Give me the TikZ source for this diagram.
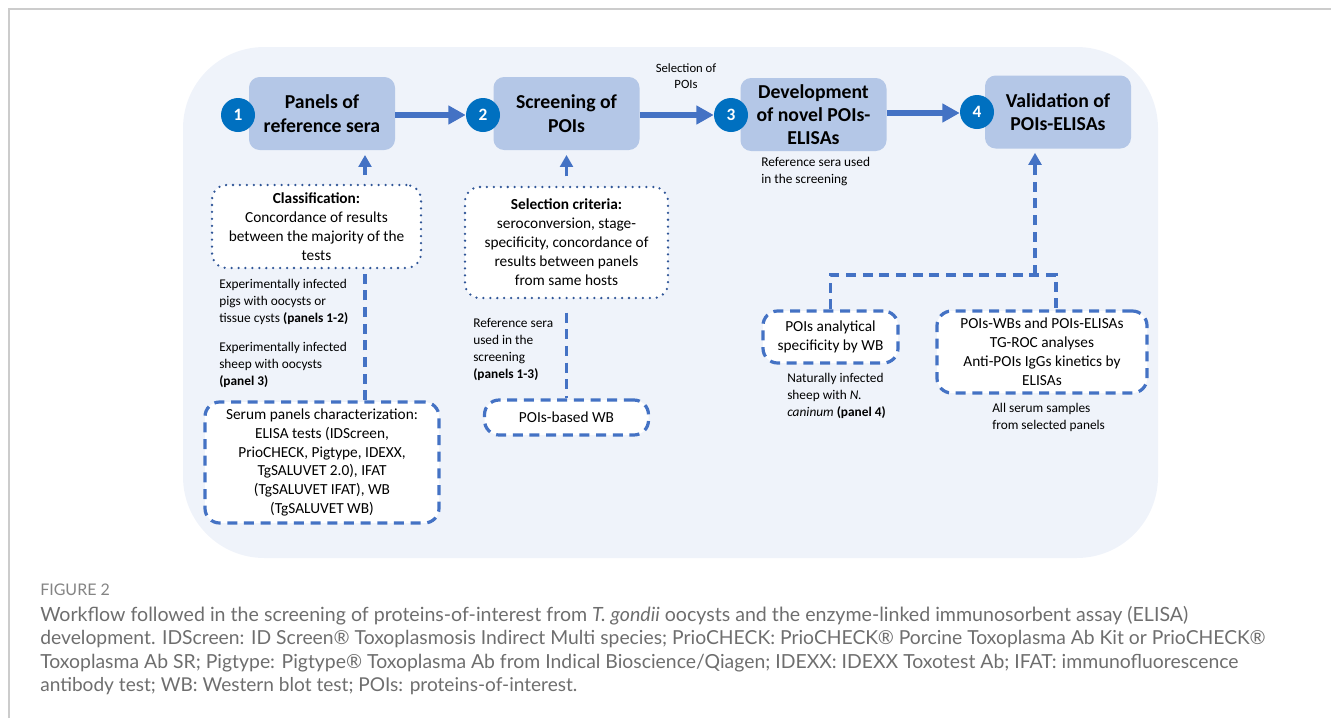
\documentclass[tikz,border=0pt]{standalone}
\usepackage{fontspec}
\setmainfont{Carlito}
\newfontfamily\leyenda{Lato}
\usetikzlibrary{arrows.meta}
\definecolor{fondo}{HTML}{EFF3FA}
\definecolor{cajaazul}{HTML}{B4C7E7}
\definecolor{circulo}{HTML}{0070C0}
\definecolor{flecha}{HTML}{4472C4}
\definecolor{punteado}{HTML}{2F5597}
\definecolor{marco}{HTML}{CCCCCC}
\definecolor{gris}{HTML}{6E6E6E}
\begin{document}
\begin{tikzpicture}[x=0.75pt,y=-0.75pt,
    paso/.style={fill=cajaazul,rounded corners=8pt,minimum width=109.5pt,minimum height=54.75pt,align=center,inner sep=2pt,font=\fontsize{14.8}{17.5}\selectfont\bfseries},
    numero/.style={circle,fill=circulo,text=white,minimum size=25.5pt,inner sep=0pt,font=\fontsize{13}{13}\selectfont\bfseries},
    punteada/.style={draw=punteado,line width=1.9pt,dash pattern=on 0pt off 5.2pt,line cap=round,fill=white,rounded corners=11pt,align=center,inner sep=2pt,font=\fontsize{11.5}{14.2}\selectfont},
    rayada/.style={draw=flecha,line width=2.4pt,dash pattern=on 7.5pt off 5pt,fill=white,rounded corners=11pt,align=center,inner sep=2pt,font=\fontsize{11.5}{14.2}\selectfont},
    nota/.style={align=left,inner sep=0pt,anchor=north west,font=\fontsize{10}{12.7}\selectfont},
    pie/.style={anchor=base west,inner sep=0pt,text=gris,font=\leyenda\fontsize{14.3}{17.6}\selectfont},
    flechagorda/.style={draw=flecha,line width=3.8pt,-{Triangle[length=13pt,width=13.5pt]}},
    flechita/.style={draw=flecha,line width=2.4pt,-{Triangle[length=9pt,width=9.5pt]}},
    linea/.style={draw=flecha,line width=2.4pt,dash pattern=on 7.5pt off 5pt}]
\useasboundingbox (0,0) rectangle (1331,718);
\draw[marco,line width=1.1pt] (9,718) -- (9,9) -- (1331,9); % marco
\fill[fondo,rounded corners=61pt] (183,47) rectangle (1158,558); % fondo
% pasos
\node[paso] (paneles) at (322,113.5) {Panels of\\reference sera};
\node[paso] (cribado) at (566.5,113.5) {Screening of\\POIs};
\node[paso] (desarrollo) at (813.5,114.5) {Development\\of novel POIs-\\ELISAs};
\node[paso] (valida) at (1058,112) {Validation of\\POIs-ELISAs};
\node[numero] (n1) at (238,115) {1};
\node[numero] (n2) at (483,115) {2};
\node[numero] (n3) at (731,115) {3};
\node[numero] (n4) at (977,112) {4};
\draw[flechagorda] (paneles.east |- n2) -- (n2.west);
\draw[flechagorda] (cribado.east |- n3) -- (n3.west);
\draw[flechagorda] (desarrollo.east |- 0,113) -- (n4.west |- 0,113);
\node[nota,anchor=north,align=center,font=\fontsize{9.5}{12.5}\selectfont] (seleccion) at (686,63) {Selection of\\POIs};
\node[nota] (usados) at (761,157) {Reference sera used\\in the screening};
% columna 1
\node[rayada,minimum width=175.5pt,minimum height=90.75pt] (suero) at (322,462.5) {Serum panels characterization:\\ELISA tests (IDScreen,\\PrioCHECK, Pigtype, IDEXX,\\TgSALUVET 2.0), IFAT\\(TgSALUVET IFAT), WB\\(TgSALUVET WB)};
\coordinate (eje1) at (365,0);
\draw[linea] (suero.north -| eje1) -- (300,268 -| eje1);
\node[punteada,minimum width=156.75pt,minimum height=62.25pt] (clasif) at (316.5,226.5) {\textbf{Classification:}\\Concordance of results\\between the majority of the\\tests};
\draw[flechita,shorten <=6.5pt,shorten >=3.5pt] (clasif.north -| eje1) -- (paneles.south -| eje1);
\node[nota] (cerdos) at (219,279) {Experimentally infected\\pigs with oocysts or\\tissue cysts \textbf{(panels 1-2)}};
\node[nota] (ovejas) at (219,342) {Experimentally infected\\sheep with oocysts\\\textbf{(panel 3)}};
% columna 2
\node[punteada,minimum width=152.25pt,minimum height=83.25pt] (criterio) at (566.5,242.5) {\textbf{Selection criteria:}\\seroconversion, stage-\\specificity, concordance of\\results between panels\\from same hosts};
\node[rayada,minimum width=123pt,minimum height=26.25pt] (wb) at (566.5,417.5) {POIs-based WB};
\draw[linea,shorten <=10pt] (criterio.south) -- (wb.north);
\draw[flechita,shorten <=7pt,shorten >=3.5pt] (criterio.north) -- (cribado.south);
\node[nota] (cribados) at (473,318) {Reference sera\\used in the\\screening\\\textbf{(panels 1-3)}};
% columna 4
\node[rayada,minimum width=101.25pt,minimum height=39pt] (analitica) at (830.5,337) {POIs analytical\\specificity by WB};
\node[rayada,minimum width=157.5pt,minimum height=61.5pt] (analisis) at (1042,352) {POIs-WBs and POIs-ELISAs\\TG-ROC analyses\\Anti-POIs IgGs kinetics by\\ELISAs};
\coordinate (ramal) at (1035,275);
\coordinate (bajada) at (1056,0);
\draw[linea] (analitica.north) |- (ramal -| bajada) -- (analisis.north -| bajada);
\draw[linea,-{Triangle[length=9pt,width=9.5pt]},shorten >=3pt] (ramal) -- (valida.south -| ramal);
\node[nota] (naturales) at (787,373) {Naturally infected\\sheep with \textit{N.}\\\textit{caninum} \textbf{(panel 4)}};
\node[nota] (todos) at (992,403) {All serum samples\\from selected panels};
% leyenda
\node[pie,text=gris!85,font=\leyenda\fontsize{12}{13}\selectfont] (figura) at (40,595) {FIGURE 2};
\node[pie] (pie1) at (40,621) {\resizebox{861pt}{!}{Workflow followed in the screening of proteins-of-interest from \textit{T. gondii} oocysts and the enzyme-linked immunosorbent assay (ELISA)}};
\node[pie] (pie2) at (40,644.5) {\resizebox{918.75pt}{!}{development. IDScreen: ID Screen® Toxoplasmosis Indirect Multi species; PrioCHECK: PrioCHECK® Porcine Toxoplasma Ab Kit or PrioCHECK®}};
\node[pie] (pie3) at (40,668) {\resizebox{898.5pt}{!}{Toxoplasma Ab SR; Pigtype: Pigtype® Toxoplasma Ab from Indical Bioscience/Qiagen; IDEXX: IDEXX Toxotest Ab; IFAT: immunofluorescence}};
\node[pie] (pie4) at (40,691.5) {\resizebox{402.75pt}{!}{antibody test; WB: Western blot test; POIs: proteins-of-interest.}};
\end{tikzpicture}
\end{document}
